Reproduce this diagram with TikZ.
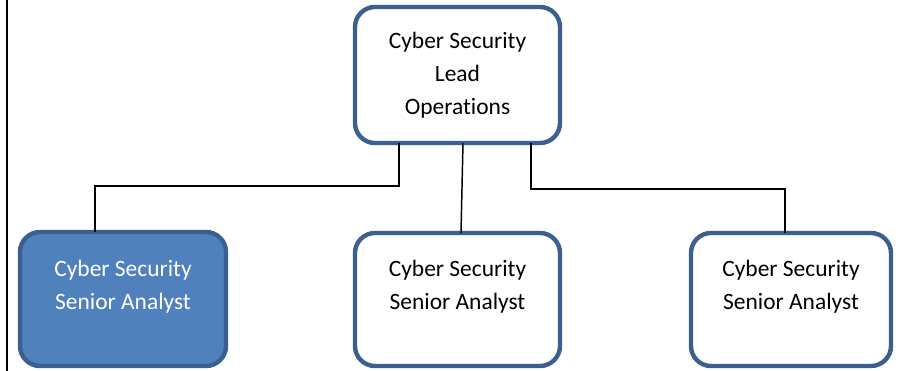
\documentclass[tikz,border=0pt]{standalone}
\usepackage{fontspec}
\setmainfont{Carlito}[RawFeature={-liga;-clig;-calt;-dlig}]
\usetikzlibrary{calc}
\definecolor{boxline}{HTML}{3B6090}
\definecolor{boxfill}{HTML}{4F81BD}
\begin{document}
\begin{tikzpicture}[x=0.75pt,y=-0.75pt,
  orgbox/.style={draw=boxline, line width=3.3pt, rounded corners=15pt, fill=white,
    inner sep=0pt, outer sep=0pt},
  boxtext/.style={align=center, inner sep=0pt,
    font=\fontsize{17.6pt}{24.75pt}\selectfont},
  link/.style={draw=black, line width=1.1pt}]
  \useasboundingbox (0,0) rectangle (904,371);
  \fill[white] (0,0) rectangle (904,371);

  % left margin rule
  \coordinate (ruleTop) at (7,0);
  \coordinate (ruleBot) at (7,371);
  \draw[line width=1.5pt] (ruleTop) -- (ruleBot);

  % boxes
  \node[orgbox, minimum width=205*0.75pt, minimum height=136*0.75pt,
        boxtext] (lead) at (457.5,75) {Cyber Security\\Lead\\Operations};
  \node[orgbox, fill=boxfill, minimum width=206*0.75pt, minimum height=134*0.75pt]
        (a1) at (123,299) {};
  \node[orgbox, minimum width=205*0.75pt, minimum height=133*0.75pt]
        (a2) at (457.5,299.5) {};
  \node[orgbox, minimum width=200*0.75pt, minimum height=133*0.75pt]
        (a3) at (791,299.5) {};

  % box labels
  \node[boxtext, text=white] (t1) at ($(a1.center)+(0,-12.5)$) {Cyber Security\\Senior Analyst};
  \node[boxtext] (t2) at ($(a2.center)+(0,-13)$) {Cyber Security\\Senior Analyst};
  \node[boxtext] (t3) at ($(a3.center)+(0,-13)$) {Cyber Security\\Senior Analyst};

  % connectors from the lead box down to each analyst box
  \coordinate (j1) at (95,186);
  \coordinate (j3) at (785,189);
  \draw[link] ($(lead.south)+(-58.5,0)$) |- (j1) -- (a1.north -| j1);
  \draw[link] ($(lead.south)+(5.5,0)$) -- ($(a2.north)+(3.5,0)$);
  \draw[link] ($(lead.south)+(73.5,0)$) |- (j3) -- (a3.north -| j3);
\end{tikzpicture}
\end{document}
